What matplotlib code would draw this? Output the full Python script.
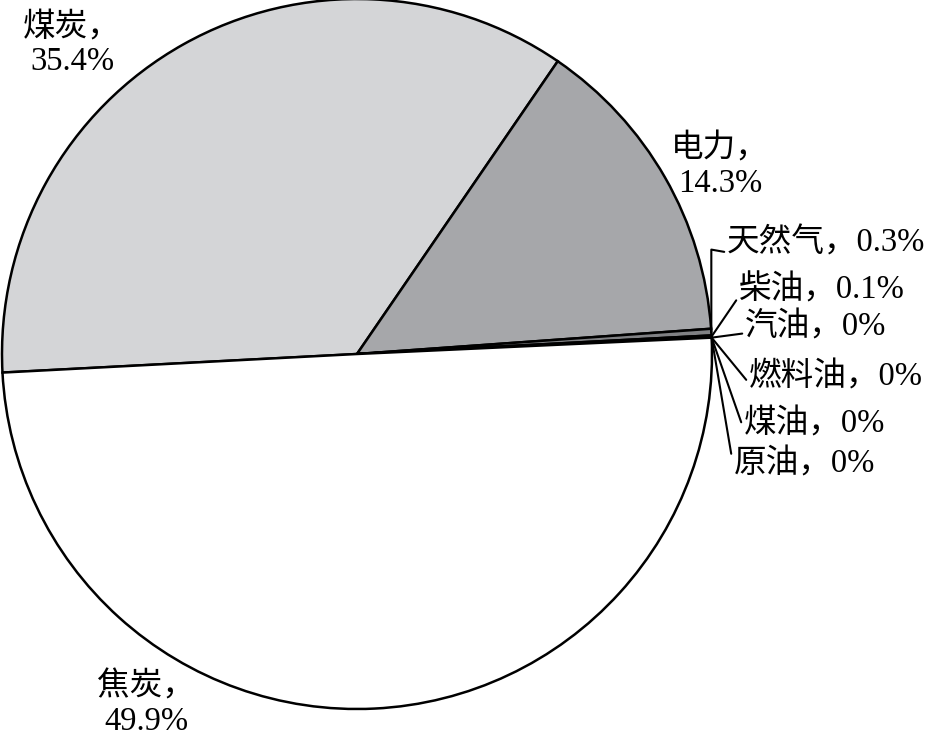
import numpy as np
import matplotlib.pyplot as plt

plt.rcParams['font.family'] = ['Liberation Serif', 'Noto Sans CJK SC']

# data (clockwise from the left edge)
names = ['煤炭', '电力', '天然气', '柴油', '汽油', '燃料油', '煤油', '原油', '焦炭']
shares = [35.4, 14.3, 0.3, 0.1, 0, 0, 0, 0, 49.9]
colors = ['#d4d5d7', '#a6a7aa', '#808184', '#3c3c3c', '#3c3c3c', '#3c3c3c', '#3c3c3c', '#3c3c3c', '#ffffff']

W, H = 931, 739
cx, cy, R = 357, 354, 355   # pie centre / radius in pixels

fig = plt.figure(figsize=(W / 100, H / 100), dpi=100)
ax = fig.add_axes([0, 0, 1, 1])

wedges, _ = ax.pie(shares, colors=colors, startangle=183, counterclock=False,
                   radius=1, center=(0, 0), frame=True,
                   wedgeprops=dict(edgecolor='black', linewidth=1.8))
ax.set_xlim(-cx / R, (W - cx) / R)
ax.set_ylim((cy - H) / R, cy / R)
ax.set_aspect('auto')
ax.axis('off')


def px(x, y):
    return ((x - cx) / R, (cy - y) / R)


fs = 23.5
# big slices: two-line labels
big = {'煤炭': (72, 44), '电力': (720, 166), '焦炭': (146, 704)}
for n, v in zip(names, shares):
    if n in big:
        ax.text(*px(*big[n]), f'{n}，\n{v:g}%', ha='center', va='center',
                fontsize=fs, linespacing=1.15)

# small slices: labels with leader lines
small = {'天然气': (727, 243), '柴油': (739, 290), '汽油': (745, 327),
         '燃料油': (749, 377), '煤油': (744, 424), '原油': (734, 464)}
for w, n, v in zip(wedges, names, shares):
    if n not in small:
        continue
    a = np.deg2rad((w.theta1 + w.theta2) / 2)
    xy = (np.cos(a), np.sin(a))
    style = 'arc3'
    rel = (0, 0.3)
    if n == '天然气':
        style = 'angle,angleA=-10,angleB=90,rad=0'
        rel = (0, 0.2)
    ax.annotate(f'{n}，{v:g}%', xy=xy, xytext=px(*small[n]), ha='left', va='center',
                fontsize=fs,
                arrowprops=dict(arrowstyle='-', color='black', lw=1.5,
                                shrinkA=0, shrinkB=0, relpos=rel,
                                connectionstyle=style))

fig.savefig('out.png', dpi=100)
